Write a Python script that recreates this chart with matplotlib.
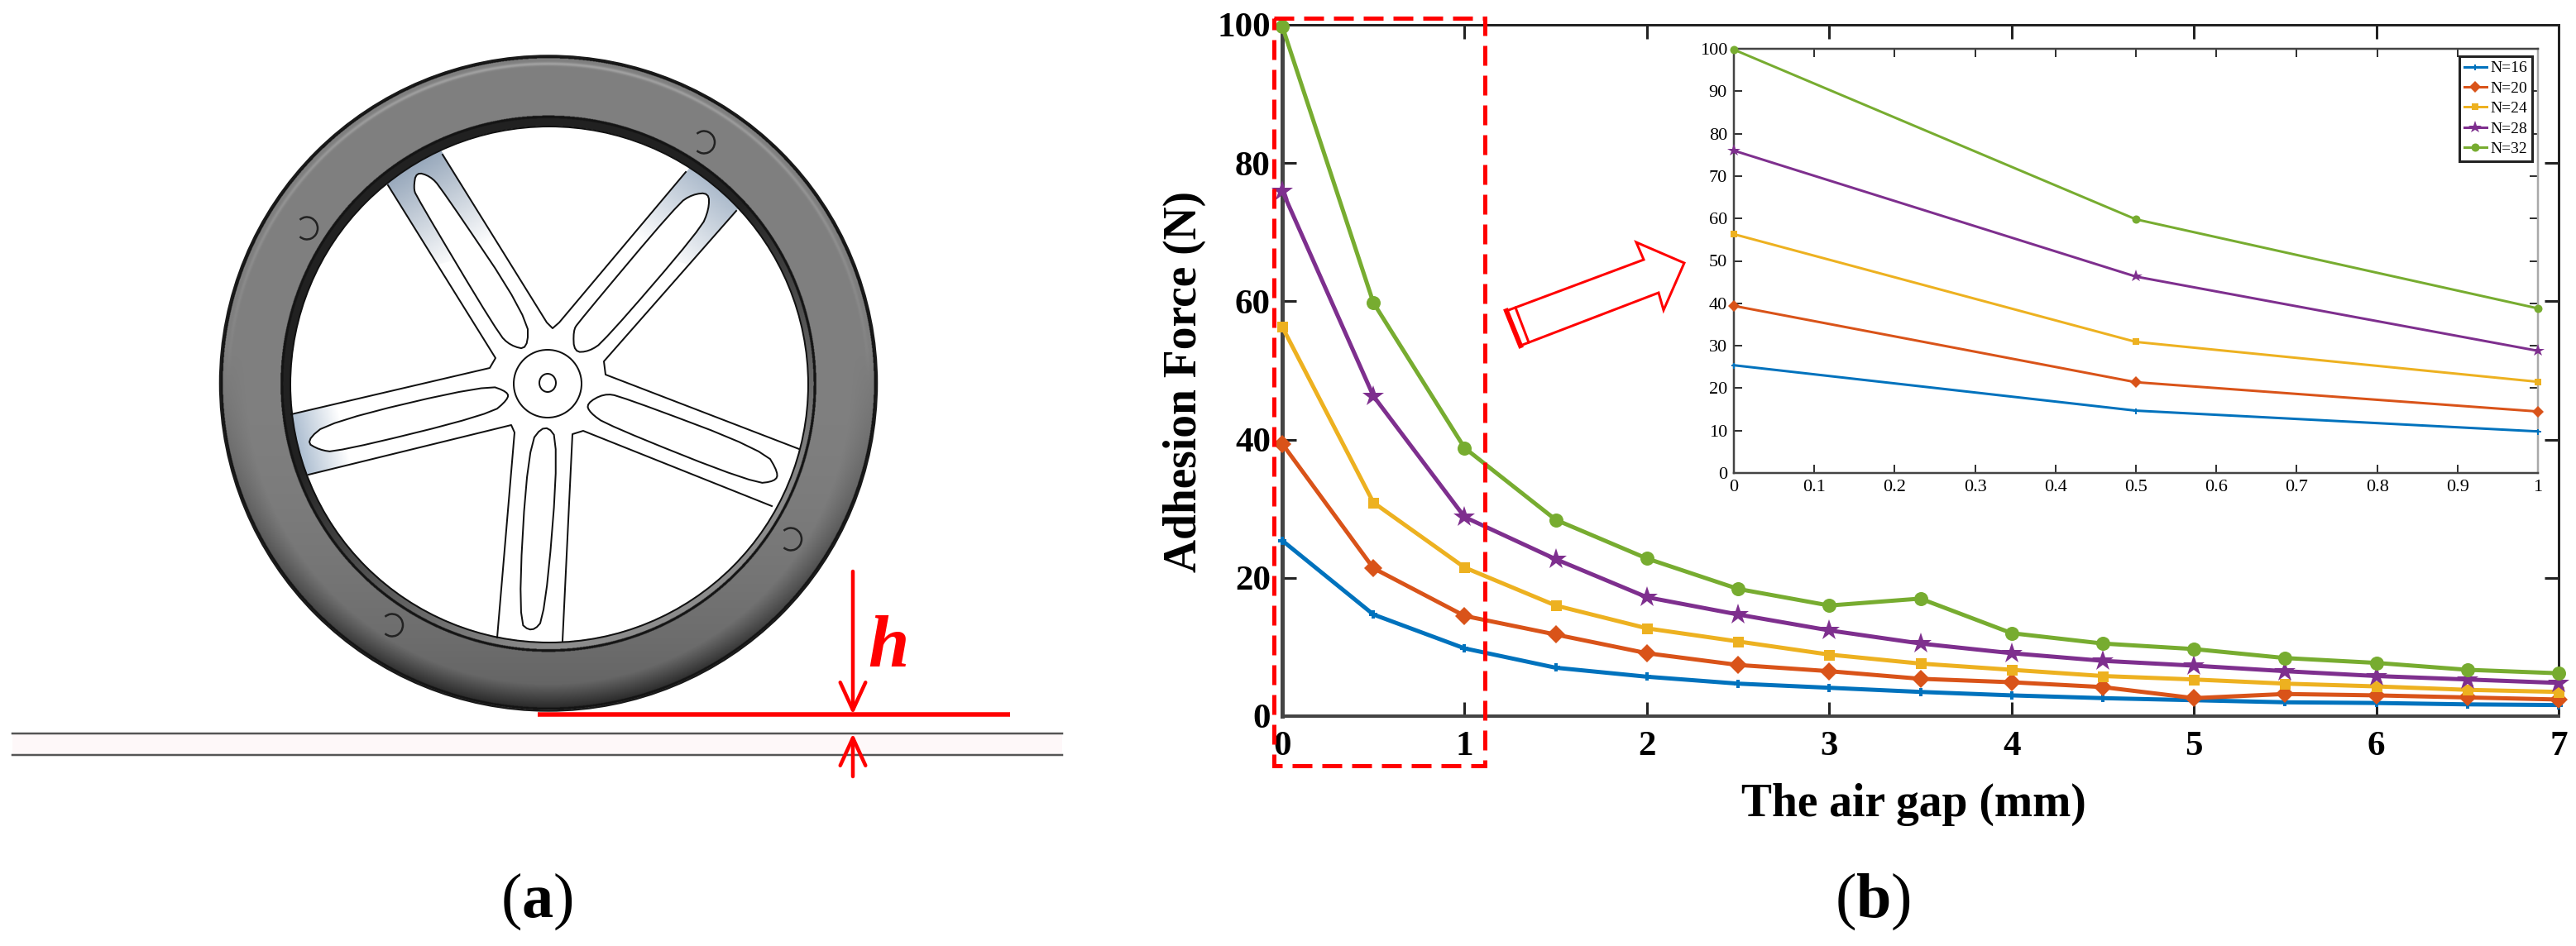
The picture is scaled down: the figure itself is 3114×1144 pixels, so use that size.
"""Wheel air gap sketch (a) and adhesion force curves (b)"""

import matplotlib

matplotlib.use("Agg")
import matplotlib.pyplot as plt
import numpy as np
from matplotlib.patches import Arc, Ellipse, Polygon, Rectangle

WIDTH, HEIGHT = 3114, 1144

# chart data
air_gap = [0, 0.5, 1, 1.5, 2, 2.5, 3, 3.5, 4, 4.5, 5, 5.5, 6, 6.5, 7]
n16 = [25.4, 14.7, 9.8, 7.0, 5.7, 4.7, 4.1, 3.5, 3.0, 2.6, 2.3, 2.0, 1.9, 1.7, 1.6]
n20 = [39.4, 21.4, 14.5, 11.8, 9.1, 7.4, 6.5, 5.4, 4.9, 4.2, 2.6, 3.2, 3.0, 2.7, 2.4]
n24 = [56.3, 30.9, 21.5, 16.0, 12.7, 10.8, 8.9, 7.6, 6.7, 5.8, 5.3, 4.7, 4.3, 3.8, 3.5]
n28 = [76.0, 46.3, 28.8, 22.7, 17.2, 14.7, 12.4, 10.5, 9.1, 8.0, 7.3, 6.5, 5.8, 5.3, 4.8]
n32 = [99.8, 59.8, 38.8, 28.4, 22.8, 18.4, 16.0, 17.0, 12.0, 10.5, 9.7, 8.4, 7.7, 6.7, 6.2]

series_labels = ["N=16", "N=20", "N=24", "N=28", "N=32"]
series_values = [n16, n20, n24, n28, n32]
series_colors = ["#0072BD", "#D95319", "#EDB120", "#7E2F8E", "#77AC30"]
series_markers = ["P", "D", "s", "*", "o"]
main_marker_px = [10, 16, 13, 27, 17]
inset_marker_px = [7, 10, 8, 16, 10]

main_xticks = [0, 1, 2, 3, 4, 5, 6, 7]
main_yticks = [0, 20, 40, 60, 80, 100]
inset_xticks = [0, 0.1, 0.2, 0.3, 0.4, 0.5, 0.6, 0.7, 0.8, 0.9, 1]
inset_xlabels = ["0", "0.1", "0.2", "0.3", "0.4", "0.5", "0.6", "0.7", "0.8", "0.9", "1"]
inset_yticks = [0, 10, 20, 30, 40, 50, 60, 70, 80, 90, 100]

# wheel sketch outlines, traced in image pixels
spoke_edges = [
    [(469, 224), (599, 433), (592, 445), (352, 501)],
    [(535, 187), (661, 390), (668, 397), (676, 390), (829, 208)],
    [(890, 255), (730, 437), (732, 453), (966, 543)],
    [(373, 574), (618, 514), (622, 523), (601, 771)],
    [(680, 775), (692, 525), (705, 521), (933, 612)],
]
spoke_slots = [
    [(500, 227), (503, 208), (520, 213), (533, 227), (638, 383), (638, 423), (617, 418), (602, 403), (503, 237)],
    [(857, 233), (837, 235), (819, 247), (699, 390), (693, 400), (694, 426), (712, 425), (730, 413), (847, 277), (857, 253)],
    [(369, 534), (398, 510), (589, 465), (614, 474), (614, 483), (593, 501), (406, 547), (386, 544)],
    [(709, 488), (730, 476), (750, 479), (925, 545), (941, 572), (937, 582), (912, 585), (734, 514), (713, 499)],
    [(659, 512), (676, 534), (659, 747), (643, 765), (626, 751), (638, 539)],
]
bolt_centers = [(851, 172), (371, 276), (956, 652), (474, 756)]
arrow_outline = [(1821, 376), (1838, 418), (2005, 354), (2011, 375), (2036, 318), (1978, 293), (1987, 314)]

plt.rcParams["font.family"] = ["Liberation Serif", "DejaVu Serif"]
plt.rcParams["mathtext.fontset"] = "custom"
plt.rcParams["mathtext.rm"] = "Liberation Serif"
plt.rcParams["mathtext.bf"] = "Liberation Serif:bold"


def px(value):
    """ピクセルを pt に変換する"""
    return value * 0.72


def add_axes_px(fig, left, top, right, bottom, **kwargs):
    return fig.add_axes(
        [left / WIDTH, 1 - bottom / HEIGHT, (right - left) / WIDTH, (bottom - top) / HEIGHT],
        **kwargs,
    )


def smooth(points, rounds=2):
    # closed polygon corner cutting
    pts = np.asarray(points, dtype=float)
    for _ in range(rounds):
        nxt = np.roll(pts, -1, axis=0)
        pts = np.column_stack([0.75 * pts + 0.25 * nxt, 0.25 * pts + 0.75 * nxt]).reshape(-1, 2)
    return pts


def shade(ax, polygon, start, end, color):
    """polygon 内に start -> end の向きで白へ抜けるグラデーションを描く"""
    pts = np.asarray(polygon, dtype=float)
    x0, y0 = pts.min(axis=0)
    x1, y1 = pts.max(axis=0)
    yy, xx = np.mgrid[y0:y1:80j, x0:x1:80j]
    d = np.subtract(end, start)
    t = ((xx - start[0]) * d[0] + (yy - start[1]) * d[1]) / (d @ d)
    rgba = np.zeros((80, 80, 4))
    rgba[..., :3] = matplotlib.colors.to_rgb(color)
    rgba[..., 3] = 1 - np.clip(t, 0, 1)
    im = ax.imshow(rgba, extent=(x0, x1, y1, y0), origin="upper", aspect="auto", zorder=1)
    im.set_clip_path(Polygon(pts, transform=ax.transData))


def draw_tire(ax):
    cx, cy, rx, ry = 663, 463.5, 397, 396
    band_cx, band_cy, band_rx, band_ry = 663, 464.5, 324, 324.5
    hole_cx, hole_cy, hole_rx, hole_ry = 664, 465, 313, 312
    x0, x1, y0, y1 = cx - rx - 4, cx + rx + 4, cy - ry - 4, cy + ry + 4
    yy, xx = np.mgrid[y0:y1:1620j, x0:x1:1620j]
    dx, dy = xx - cx, yy - cy
    outer = np.hypot(dx / rx, dy / ry)
    band = np.hypot((xx - band_cx) / band_rx, (yy - band_cy) / band_ry)
    hole = np.hypot((xx - hole_cx) / hole_rx, (yy - hole_cy) / hole_ry)
    side = dy / ry

    # gray tread, darker toward the floor, with a lit rim on top
    gray = 0.50 - 0.12 * np.clip(side, 0, 1) ** 2
    gray = gray - 0.24 * np.clip((outer - 0.92) / 0.08, 0, 1) * np.clip(side + 0.1, 0, 1)
    rim = np.exp(-(((outer - 0.975) / 0.005) ** 2)) * np.clip(-side, 0, 1)
    gray = gray + 0.14 * rim

    # inner band: black on top, lighter toward lower right
    lit = np.clip(side + 0.6 * dx / rx + 0.2, 0, 1)
    band_gray = 0.13 + 0.42 * lit
    gray = np.where(band < 1, band_gray, gray)
    gray = np.where((outer > 0.992) | ((band > 0.99) & (band < 1.0)), 0.08, gray)

    rgba = np.ones((*gray.shape, 4))
    rgba[..., :3] = gray[..., None]
    rgba[..., 3] = ((outer <= 1) & (hole >= 1)).astype(float)
    ax.imshow(rgba, extent=(x0, x1, y1, y0), origin="upper", aspect="auto", zorder=2, interpolation="bilinear")
    ax.add_patch(Ellipse((hole_cx, hole_cy), 2 * hole_rx, 2 * hole_ry, fill=False, ec="#111111", lw=px(2), zorder=3))
    ax.add_patch(Ellipse((cx, cy), 2 * rx, 2 * ry, fill=False, ec="#1a1a1a", lw=px(2.5), zorder=3))


def draw_sketch(ax):
    shade(ax, [(445, 185), (529, 320), (605, 300), (520, 160)], (490, 200), (560, 315), "#94a5b9")
    shade(ax, [(853, 180), (912, 230), (833, 320), (752, 300)], (872, 215), (795, 310), "#a3b3c6")
    shade(ax, [(330, 506), (420, 485), (435, 559), (345, 581)], (350, 535), (415, 520), "#9fb3c9")
    draw_tire(ax)

    for edge in spoke_edges:
        xs, ys = zip(*edge)
        ax.plot(xs, ys, color="#111111", lw=px(2), solid_joinstyle="round", zorder=3)
    for slot in spoke_slots:
        ax.add_patch(Polygon(smooth(slot), fc="white", ec="#111111", lw=px(2), zorder=1.5))

    ax.add_patch(Ellipse((662, 464), 82, 82, fc="white", ec="#111111", lw=px(2), zorder=3))
    ax.add_patch(Ellipse((662, 463), 20, 22, fc="white", ec="#111111", lw=px(2), zorder=3))
    for center in bolt_centers:
        ax.add_patch(Arc(center, 26, 27, theta1=-130, theta2=130, ec="#222222", lw=px(2.5), zorder=3))

    # ground
    ax.add_patch(Rectangle((15, 887), 1269, 26, fc="#fef8f9", ec="none"))
    ax.plot([15, 1284], [887, 887], color="#555555", lw=px(2.5))
    ax.plot([15, 1284], [913, 913], color="#555555", lw=px(2.5))

    # air gap dimension
    ax.plot([650, 1221], [864, 864], color="#ff0000", lw=px(5.5), solid_capstyle="butt", zorder=4)
    arrow = dict(arrowstyle="->,head_length=1.2,head_width=0.55", color="#ff0000", lw=px(4.5), shrinkA=0, shrinkB=0, mutation_scale=20)
    ax.annotate("", xy=(1031, 864), xytext=(1031, 691), arrowprops=arrow, zorder=4)
    ax.annotate("", xy=(1031, 887), xytext=(1031, 939), arrowprops=arrow, zorder=4)
    ax.text(1074, 784, "h", color="#ff0000", fontsize=64, fontweight="bold", fontstyle="italic", ha="center", va="center")

    ax.text(649, 1090, r"$\mathrm{(}\mathbf{a}\mathrm{)}$", fontsize=55, ha="center", va="center")
    ax.text(2264, 1090, r"$\mathrm{(}\mathbf{b}\mathrm{)}$", fontsize=55, ha="center", va="center")


def draw_callouts(ax):
    # dashed zoom box and big arrow
    ax.add_patch(Rectangle((1540, 22), 255, 904, fill=False, ec="#ff0000", lw=px(5), ls=(0, (4.8, 2.4)), zorder=6))
    ax.add_patch(Polygon(arrow_outline, fc="white", ec="#ff0000", lw=px(3), zorder=6))
    ax.plot([1821, 1838], [376, 418], color="#ff0000", lw=px(6), zorder=7)
    ax.plot([1832, 1848], [372, 414], color="#ff0000", lw=px(3), zorder=7)


def draw_series(ax, count, marker_px, line_px):
    for label, values, color, marker, size in zip(series_labels, series_values, series_colors, series_markers, marker_px):
        ax.plot(
            air_gap[:count], values[:count], color=color, marker=marker, markersize=px(size), lw=px(line_px),
            markeredgewidth=0, label=label, clip_on=False, zorder=4,
        )


fig = plt.figure(figsize=(WIDTH / 100, HEIGHT / 100), dpi=100, facecolor="white")

# main chart
ax = add_axes_px(fig, 1550, 30, 3093, 866, zorder=1)
draw_series(ax, len(air_gap), main_marker_px, 5)
ax.set_xlim(0, 7)
ax.set_ylim(0, 100)
ax.set_xticks(main_xticks)
ax.set_yticks(main_yticks)
ax.tick_params(direction="in", top=True, right=True, length=px(17), width=px(3), color="#222222", labelsize=31, pad=px(14))
ax.tick_params(axis="x", pad=px(18))
for tick in ax.get_xticklabels() + ax.get_yticklabels():
    tick.set_fontweight("bold")
for spine in ax.spines.values():
    spine.set_linewidth(px(3))
    spine.set_color("#222222")
ax.spines["left"].set_linewidth(px(5))
ax.spines["left"].set_color("#444444")
ax.spines["bottom"].set_linewidth(px(4))
ax.spines["bottom"].set_color("#444444")
fig.text(1432 / WIDTH, 1 - 461 / HEIGHT, "Adhesion Force (N)", rotation=90, fontsize=40, fontweight="bold", ha="center", va="center")
fig.text(2313 / WIDTH, 1 - 973 / HEIGHT, "The air gap (mm)", fontsize=40, fontweight="bold", ha="center", va="center")

# inset
inset = add_axes_px(fig, 2096, 59, 3068, 572, zorder=3)
draw_series(inset, 3, inset_marker_px, 3)
inset.set_xlim(0, 1)
inset.set_ylim(0, 100)
inset.set_xticks(inset_xticks, inset_xlabels)
inset.set_yticks(inset_yticks)
inset.tick_params(direction="in", top=True, right=True, length=px(10), width=px(2), color="#333333", labelsize=16, pad=px(8))
for name, spine in inset.spines.items():
    spine.set_linewidth(px(2.5))
    spine.set_color("#aaaaaa" if name == "right" else "#444444")
legend = inset.legend(
    loc="upper left",
    bbox_to_anchor=((2973 - 2096) / 972, (572 - 68) / 513),
    fontsize=14,
    frameon=True,
    fancybox=False,
    framealpha=1,
    edgecolor="#222222",
    borderaxespad=0,
    borderpad=0.3,
    labelspacing=0.35,
    handlelength=1.4,
    handletextpad=0.2,
)
legend.get_frame().set_linewidth(px(3))

# sketch layer in image pixels
overlay = fig.add_axes([0, 0, 1, 1], zorder=5)
overlay.patch.set_alpha(0)
draw_sketch(overlay)
draw_callouts(overlay)
overlay.set_xlim(0, WIDTH)
overlay.set_ylim(HEIGHT, 0)
overlay.set_axis_off()

fig.savefig("out.png", dpi=100)
plt.close(fig)
